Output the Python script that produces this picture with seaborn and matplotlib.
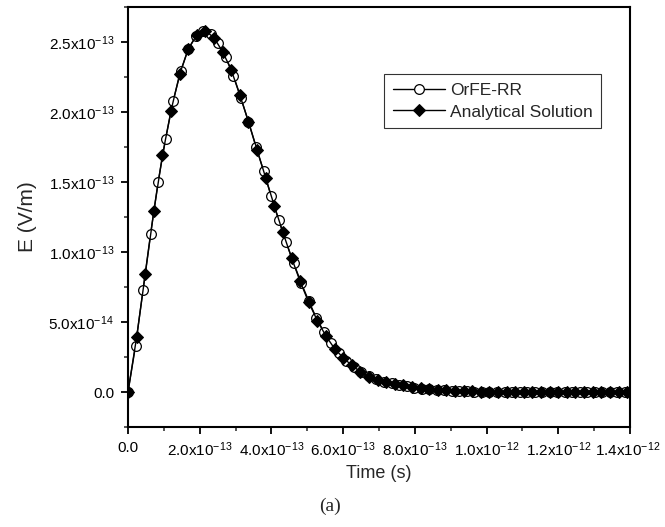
import math
import matplotlib
matplotlib.use("Agg")
import matplotlib.pyplot as plt
from matplotlib.ticker import FuncFormatter, FixedLocator
from matplotlib.transforms import ScaledTranslation
import seaborn as sns
import pandas as pd

# ---- data (time in units of 1e-14 s, field in units of 1e-14 V/m) ----
orfe_t = [0, 2.1, 4.2, 6.3, 8.4, 10.5, 12.6, 14.7, 16.8, 18.9, 21.0, 23.1, 25.2,
          27.3, 29.4, 31.5, 33.6, 35.7, 37.8, 39.9, 42.0, 44.1, 46.2, 48.3, 50.4,
          52.5, 54.6, 56.7, 58.8, 60.9, 63.0, 65.1, 67.2, 69.3, 71.4, 73.5, 75.6,
          77.7, 79.8, 81.9, 84.0, 86.1, 88.2, 90.3, 92.4, 94.5, 96.6, 98.7, 100.8,
          102.9, 105.0, 107.1, 109.2, 111.3, 113.4, 115.5, 117.6, 119.7, 121.8,
          123.9, 126.0, 128.1, 130.2, 132.3, 134.4, 136.5, 138.6]
orfe_e = [0, 3.3, 7.3, 11.3, 15.0, 18.1, 20.8, 22.9, 24.5, 25.4, 25.8, 25.6, 24.9,
          23.9, 22.6, 21.0, 19.3, 17.5, 15.8, 14.0, 12.3, 10.7, 9.2, 7.8, 6.5,
          5.3, 4.3, 3.5, 2.8, 2.25, 1.8, 1.45, 1.15, 0.92, 0.75, 0.62, 0.5,
          0.4, 0.32, 0.25, 0.2, 0.15, 0.11, 0.08, 0.06, 0.04, 0.03, 0.02, 0.01,
          0, 0, 0, 0, 0, 0, 0, 0, 0, 0,
          0, 0, 0, 0, 0, 0, 0, 0]

anal_t = [0, 2.4, 4.8, 7.2, 9.6, 12.0, 14.4, 16.8, 19.2, 21.6, 24.0, 26.4, 28.8,
          31.2, 33.6, 36.0, 38.4, 40.8, 43.2, 45.6, 48.0, 50.4, 52.8, 55.2, 57.6,
          60.0, 62.4, 64.8, 67.2, 69.6, 72.0, 74.4, 76.8, 79.2, 81.6, 84.0, 86.4,
          88.8, 91.2, 93.6, 96.0, 98.4, 100.8, 103.2, 105.6, 108.0, 110.4, 112.8,
          115.2, 117.6, 120.0, 122.4, 124.8, 127.2, 129.6, 132.0, 134.4, 136.8, 139.2]
anal_e = [0, 3.9, 8.4, 12.9, 16.9, 20.1, 22.7, 24.5, 25.5, 25.8, 25.3, 24.3, 23.0,
          21.2, 19.3, 17.3, 15.3, 13.3, 11.4, 9.6, 7.9, 6.4, 5.1, 4.0, 3.1,
          2.45, 1.9, 1.45, 1.1, 0.87, 0.72, 0.6, 0.48, 0.38, 0.3, 0.23, 0.17,
          0.12, 0.09, 0.06, 0.04, 0.03, 0.02, 0.01, 0, 0, 0, 0,
          0, 0, 0, 0, 0, 0, 0, 0, 0, 0, 0]

labels = ["OrFE-RR", "Analytical Solution"]
x_major = [0, 2e-13, 4e-13, 6e-13, 8e-13, 1.0e-12, 1.2e-12, 1.4e-12]
x_minor = [1e-13, 3e-13, 5e-13, 7e-13, 9e-13, 1.1e-12, 1.3e-12]
y_major = [0, 5e-14, 1.0e-13, 1.5e-13, 2.0e-13, 2.5e-13]
y_minor = [-2.5e-14, 2.5e-14, 7.5e-14, 1.25e-13, 1.75e-13, 2.25e-13, 2.75e-13]
unit = 1e-14

df_o = pd.DataFrame({"t": [v * unit for v in orfe_t], "E": [v * unit for v in orfe_e]})
df_a = pd.DataFrame({"t": [v * unit for v in anal_t], "E": [v * unit for v in anal_e]})

sns.set_style("ticks")
plt.rcParams["font.family"] = ["Liberation Sans", "DejaVu Sans"]
plt.rcParams["mathtext.fontset"] = "custom"
plt.rcParams["mathtext.rm"] = "Liberation Sans"
plt.rcParams["mathtext.it"] = "Liberation Sans:italic"
plt.rcParams["mathtext.bf"] = "Liberation Sans:bold"

fig = plt.figure(figsize=(6.65, 5.27), dpi=100)
ax = fig.add_axes([128 / 665, 1 - 427 / 527, (630 - 128) / 665, (427 - 7) / 527])

sns.lineplot(data=df_o, x="t", y="E", ax=ax, color="black", lw=1.0,
             marker="o", markersize=7, markerfacecolor="white",
             markeredgecolor="black", markeredgewidth=0.9, label=labels[0],
             estimator=None, sort=False)
sns.lineplot(data=df_a, x="t", y="E", ax=ax, color="black", lw=1.0,
             marker="D", markersize=6.5, markerfacecolor="black",
             markeredgecolor="black", label=labels[1],
             estimator=None, sort=False)

ax.set_xlim(0, 1.4e-12)
ax.set_ylim(-2.5e-14, 2.75e-13)
ax.xaxis.set_major_locator(FixedLocator(x_major))
ax.xaxis.set_minor_locator(FixedLocator(x_minor))
ax.yaxis.set_major_locator(FixedLocator(y_major))
ax.yaxis.set_minor_locator(FixedLocator(y_minor))


def sci(v, pos):
    if abs(v) < 1e-20:
        return "0.0"
    exp = int(math.floor(math.log10(abs(v)) + 1e-9))
    mant = v / 10 ** exp
    return r"$\mathregular{%.1fx10^{%d}}$" % (mant, exp)


ax.xaxis.set_major_formatter(FuncFormatter(sci))
ax.yaxis.set_major_formatter(FuncFormatter(sci))

for s in ax.spines.values():
    s.set_linewidth(1.5)
    s.set_color("black")
ax.tick_params(which="major", direction="out", length=5, width=1.3,
               labelsize=11, colors="black", pad=5)
ax.tick_params(which="minor", direction="out", length=3, width=1.1)
ax.tick_params(top=False, right=False, which="both")

# nudge the last x tick label slightly inward so it stays inside the canvas
last = ax.get_xticklabels()[-1]
last.set_transform(last.get_transform() +
                   ScaledTranslation(-2 / 100, 0, fig.dpi_scale_trans))

ax.set_xlabel("Time (s)", fontsize=13, labelpad=4)
ax.set_ylabel("E (V/m)", fontsize=15, labelpad=8)

leg = ax.legend(loc="upper right", bbox_to_anchor=(0.96, 0.86), fontsize=12.5,
                frameon=True, fancybox=False, handlelength=3.0,
                borderpad=0.5, labelspacing=0.35, handletextpad=0.3)
leg.get_frame().set_edgecolor("black")
leg.get_frame().set_linewidth(0.8)

fig.text(0.496, 0.040, "(a)", ha="center", va="center", fontsize=14,
         family=["Liberation Serif", "DejaVu Serif"])

fig.savefig("out.png", dpi=100)
